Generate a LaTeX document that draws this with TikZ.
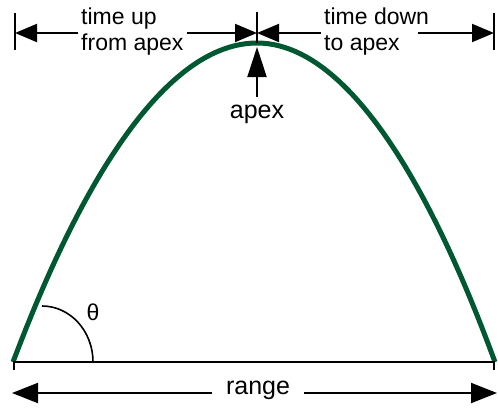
\documentclass[tikz,border=0pt]{standalone}
\usepackage{fontspec}
\setmainfont{Liberation Sans}
\usetikzlibrary{arrows.meta}
\definecolor{pathgreen}{RGB}{0,88,50}
\tikzset{
    dimline/.style={line width=2pt, -{Triangle[length=22pt,width=18pt]}},
    rangeline/.style={line width=2pt, -{Triangle[length=26pt,width=20pt]}},
    apexline/.style={line width=2pt, -{Triangle[length=30pt,width=19pt]}},
    tick/.style={line width=1.6pt},
    toplabel/.style={align=left, inner sep=3pt, font=\fontsize{23}{26}\selectfont},
    biglabel/.style={font=\fontsize{25}{28}\selectfont}
}

\begin{document}
\begin{tikzpicture}[x=1pt, y=-1pt]
    \useasboundingbox (0,0) rectangle (498,410);
    % ends of the flight and the apex
    \coordinate (L) at (13,362); \coordinate (R) at (495,362);
    \coordinate (A) at (257,43);

    % trajectory and ground
    \draw[pathgreen, line width=5pt] (L) parabola bend (A) (R);
    \draw[line width=2.2pt] (L) -- (R);
    \draw[tick] (14,362) -- (14,370); \draw[tick] (494,362) -- (494,370);

    % launch angle
    \draw[line width=1.6pt] (93,362) arc[start angle=0, end angle=90, x radius=51pt, y radius=56pt];
    \node[biglabel, font=\fontsize{23}{26}\selectfont] (theta) at (93,312) {θ};

    % time marks along the top
    \coordinate (tL) at (15,33); \coordinate (tC) at (257,33); \coordinate (tR) at (494,33);
    \draw[tick] (15,13) -- (15,50);
    \draw[tick] (257,12) -- (A);
    \draw[tick] (494,13) -- (494,50);

    \node[toplabel, anchor=west] (up) at (78,32) {time up\\from apex};
    \node[toplabel, anchor=west] (down) at (321,32) {time down\\to apex};
    \coordinate (dE) at (418,33);

    \draw[dimline] (up.west |- tL) -- (tL);
    \draw[dimline] (up.east |- tC) -- (tC);
    \draw[dimline] (down.west |- tC) -- (tC);
    \draw[dimline] (dE) -- (tR);

    % apex pointer
    \node[biglabel] (apexlbl) at (257,114) {apex};
    \coordinate (apexTail) at (257,97); \coordinate (apexTip) at (257,47);
    \draw[apexline] (apexTail) -- (apexTip);

    % range
    \node[biglabel, inner xsep=14pt] (range) at (258,390) {range};
    \coordinate (rL) at (12,393); \coordinate (rR) at (497,393);
    \draw[rangeline] (range.west |- rL) -- (rL);
    \draw[rangeline] (range.east |- rR) -- (rR);
\end{tikzpicture}
\end{document}
